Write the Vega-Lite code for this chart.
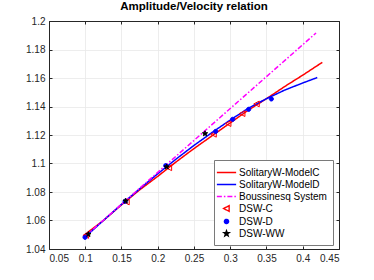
{
  "$schema": "https://vega.github.io/schema/vega-lite/v6.json",
  "width": 290,
  "height": 228,
  "autosize": "none",
  "padding": {"left": 49, "top": 21, "right": 35, "bottom": 31},
  "background": "white",
  "title": {"text": "Amplitude/Velocity relation", "font": "Liberation Sans", "fontSize": 11.5, "fontWeight": "bold", "color": "#000000", "offset": 4, "anchor": "middle"},
  "config": {
    "view": {"stroke": "#262626", "strokeWidth": 1},
    "axis": {"labelFont": "Liberation Sans", "labelFontSize": 10, "labelColor": "#262626", "domainColor": "#262626", "tickColor": "#262626", "tickSize": -3, "gridColor": "#e8e8e8", "gridWidth": 0.8, "labelPadding": 7, "title": null},
    "legend": {"labelFont": "Liberation Sans", "labelFontSize": 10, "labelColor": "#000000", "symbolSize": 121, "symbolStrokeWidth": 1.4, "padding": 6, "rowPadding": 0, "labelOffset": 6, "strokeColor": "#7a7a7a", "fillColor": "white"}
  },
  "data": {"values": [
    {"series": "SolitaryW-ModelC", "x": 0.097, "y": 1.0492},
    {"series": "SolitaryW-ModelC", "x": 0.125, "y": 1.0600},
    {"series": "SolitaryW-ModelC", "x": 0.15, "y": 1.0710},
    {"series": "SolitaryW-ModelC", "x": 0.175, "y": 1.0815},
    {"series": "SolitaryW-ModelC", "x": 0.2, "y": 1.0910},
    {"series": "SolitaryW-ModelC", "x": 0.225, "y": 1.1010},
    {"series": "SolitaryW-ModelC", "x": 0.25, "y": 1.1105},
    {"series": "SolitaryW-ModelC", "x": 0.275, "y": 1.1195},
    {"series": "SolitaryW-ModelC", "x": 0.3, "y": 1.1285},
    {"series": "SolitaryW-ModelC", "x": 0.325, "y": 1.1375},
    {"series": "SolitaryW-ModelC", "x": 0.35, "y": 1.1455},
    {"series": "SolitaryW-ModelC", "x": 0.375, "y": 1.1540},
    {"series": "SolitaryW-ModelC", "x": 0.4, "y": 1.1620},
    {"series": "SolitaryW-ModelC", "x": 0.427, "y": 1.1710},
    {"series": "SolitaryW-ModelD", "x": 0.1, "y": 1.0485},
    {"series": "SolitaryW-ModelD", "x": 0.125, "y": 1.0600},
    {"series": "SolitaryW-ModelD", "x": 0.15, "y": 1.0713},
    {"series": "SolitaryW-ModelD", "x": 0.175, "y": 1.0822},
    {"series": "SolitaryW-ModelD", "x": 0.2, "y": 1.0928},
    {"series": "SolitaryW-ModelD", "x": 0.225, "y": 1.1030},
    {"series": "SolitaryW-ModelD", "x": 0.25, "y": 1.1127},
    {"series": "SolitaryW-ModelD", "x": 0.275, "y": 1.1218},
    {"series": "SolitaryW-ModelD", "x": 0.3, "y": 1.1305},
    {"series": "SolitaryW-ModelD", "x": 0.325, "y": 1.1388},
    {"series": "SolitaryW-ModelD", "x": 0.35, "y": 1.1455},
    {"series": "SolitaryW-ModelD", "x": 0.375, "y": 1.1515},
    {"series": "SolitaryW-ModelD", "x": 0.4, "y": 1.1565},
    {"series": "SolitaryW-ModelD", "x": 0.42, "y": 1.1603},
    {"series": "Boussinesq System", "x": 0.1, "y": 1.0490},
    {"series": "Boussinesq System", "x": 0.2, "y": 1.0938},
    {"series": "Boussinesq System", "x": 0.3, "y": 1.1386},
    {"series": "Boussinesq System", "x": 0.4183, "y": 1.1916},
    {"series": "DSW-C", "x": 0.101, "y": 1.0495},
    {"series": "DSW-C", "x": 0.157, "y": 1.0730},
    {"series": "DSW-C", "x": 0.2155, "y": 1.0970},
    {"series": "DSW-C", "x": 0.2771, "y": 1.1205},
    {"series": "DSW-C", "x": 0.2973, "y": 1.1280},
    {"series": "DSW-C", "x": 0.3166, "y": 1.1350},
    {"series": "DSW-C", "x": 0.3364, "y": 1.1418},
    {"series": "DSW-D", "x": 0.0997, "y": 1.0482},
    {"series": "DSW-D", "x": 0.155, "y": 1.0735},
    {"series": "DSW-D", "x": 0.211, "y": 1.0985},
    {"series": "DSW-D", "x": 0.2799, "y": 1.1225},
    {"series": "DSW-D", "x": 0.3033, "y": 1.1310},
    {"series": "DSW-D", "x": 0.3254, "y": 1.1380},
    {"series": "DSW-D", "x": 0.3567, "y": 1.1453},
    {"series": "DSW-WW", "x": 0.1043, "y": 1.0503},
    {"series": "DSW-WW", "x": 0.1558, "y": 1.0737},
    {"series": "DSW-WW", "x": 0.2123, "y": 1.0977},
    {"series": "DSW-WW", "x": 0.2652, "y": 1.1210}
  ]},
  "resolve": {"axis": {"x": "independent", "y": "independent"}},
  "layer": [
    {
      "transform": [{"filter": {"field": "series", "oneOf": ["SolitaryW-ModelC", "SolitaryW-ModelD", "Boussinesq System"]}}],
      "mark": {"type": "line", "strokeWidth": 1.5},
      "encoding": {
        "x": {"field": "x", "type": "quantitative", "scale": {"domain": [0.05, 0.45], "nice": false, "zero": false},
              "axis": {"values": [0.05, 0.1, 0.15, 0.2, 0.25, 0.3, 0.35, 0.4, 0.45], "format": "~g", "grid": true}},
        "y": {"field": "y", "type": "quantitative", "scale": {"domain": [1.04, 1.2], "nice": false, "zero": false},
              "axis": {"values": [1.04, 1.06, 1.08, 1.1, 1.12, 1.14, 1.16, 1.18, 1.2], "format": "~g", "grid": true}},
        "color": {"field": "series", "type": "nominal",
                  "scale": {"domain": ["SolitaryW-ModelC", "SolitaryW-ModelD", "Boussinesq System", "DSW-C", "DSW-D", "DSW-WW"], "range": ["#ff0000", "#0000ff", "#ff00ff", "#ff0000", "#0000ff", "#000000"]},
                  "legend": {"title": null, "orient": "none", "legendX": 165, "legendY": 139}},
        "strokeDash": {"field": "series", "type": "nominal",
                  "scale": {"domain": ["SolitaryW-ModelC", "SolitaryW-ModelD", "Boussinesq System", "DSW-C", "DSW-D", "DSW-WW"], "range": [[1, 0], [1, 0], [5, 2, 1.5, 2], [1, 0], [1, 0], [1, 0]]},
                  "legend": {"title": null, "orient": "none", "legendX": 165, "legendY": 139}}
      }
    },
    {
      "transform": [{"filter": {"field": "series", "oneOf": ["DSW-C", "DSW-D", "DSW-WW"]}}],
      "mark": {"type": "point", "size": 121, "strokeWidth": 1, "opacity": 1},
      "encoding": {
        "x": {"field": "x", "type": "quantitative", "axis": {"orient": "top", "values": [0.05, 0.1, 0.15, 0.2, 0.25, 0.3, 0.35, 0.4, 0.45], "labels": false, "grid": false}},
        "y": {"field": "y", "type": "quantitative", "axis": {"orient": "right", "values": [1.04, 1.06, 1.08, 1.1, 1.12, 1.14, 1.16, 1.18, 1.2], "labels": false, "grid": false}},
        "color": {"field": "series", "type": "nominal", "legend": {"title": null, "orient": "none", "legendX": 165, "legendY": 139}},
        "shape": {"field": "series", "type": "nominal",
                  "scale": {"domain": ["SolitaryW-ModelC", "SolitaryW-ModelD", "Boussinesq System", "DSW-C", "DSW-D", "DSW-WW"],
                            "range": ["M-1.75,0L1.75,0", "M-1.75,0L1.75,0", "M-1.75,0L1.75,0", "M0.48,-0.52L-0.52,0L0.48,0.52Z", "M0.38,0A0.38,0.38,0,1,1,-0.38,0A0.38,0.38,0,1,1,0.38,0Z", "M0,-0.5L0.119,-0.164L0.476,-0.155L0.194,0.063L0.294,0.405L0,0.204L-0.294,0.405L-0.194,0.063L-0.476,-0.155L-0.119,-0.164Z"]},
                  "legend": {"title": null, "orient": "none", "legendX": 165, "legendY": 139}},
        "fill": {"field": "series", "type": "nominal",
                 "scale": {"domain": ["SolitaryW-ModelC", "SolitaryW-ModelD", "Boussinesq System", "DSW-C", "DSW-D", "DSW-WW"], "range": ["transparent", "transparent", "transparent", "transparent", "#0000ff", "#000000"]},
                 "legend": {"title": null, "orient": "none", "legendX": 165, "legendY": 139}}
      }
    }
  ]
}
